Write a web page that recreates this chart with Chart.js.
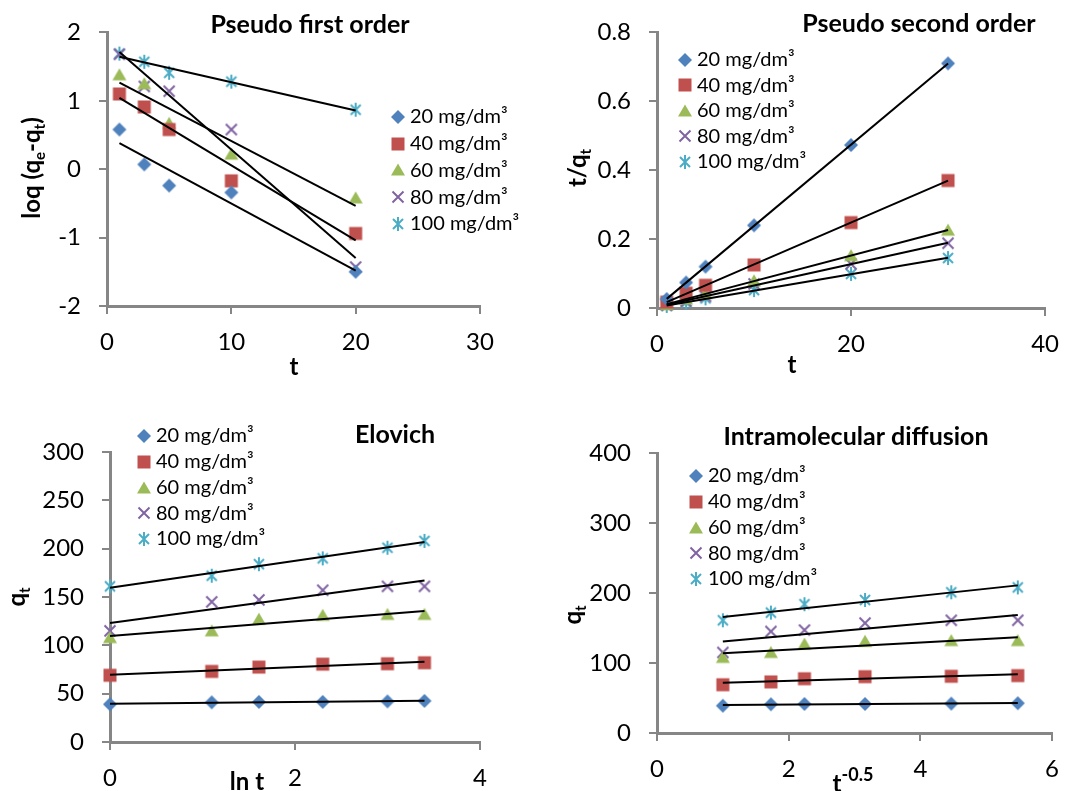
<!DOCTYPE html>
<html>
<head>
<meta charset="utf-8">
<script src="https://cdn.jsdelivr.net/npm/chart.js@4.4.0/dist/chart.umd.min.js"></script>
<style>
  html, body { margin: 0; padding: 0; background: #fff; }
  #wrap { position: relative; width: 1073px; height: 791px; overflow: hidden; }
  #wrap canvas { position: absolute; left: 0; top: 0; }
</style>
</head>
<body>
<div id="wrap">
  <canvas id="pfo" width="1073" height="791"></canvas>
  <canvas id="pso" width="1073" height="791"></canvas>
  <canvas id="elo" width="1073" height="791"></canvas>
  <canvas id="ipd" width="1073" height="791"></canvas>
</div>
<script>
// Initial concentrations and their marker colours
const series = ['20 mg/dm³', '40 mg/dm³', '60 mg/dm³', '80 mg/dm³', '100 mg/dm³'];
const colors = ['#4F81BD', '#C0504D', '#9BBB59', '#8064A2', '#4BACC6'];

// Pseudo first order: log(qe - qt) against t
const pfoT = [1, 3, 5, 10, 20];
const pfoLog = [
  [0.58, 0.07, -0.24, -0.34, -1.50],
  [1.10, 0.91, 0.58, -0.17, -0.94],
  [1.38, 1.25, 0.67, 0.22, -0.42],
  [1.68, 1.21, 1.14, 0.58, -1.43],
  [1.69, 1.57, 1.41, 1.28, 0.87]
];
const pfoXTicks = [0, 10, 20, 30];
const pfoYTicks = [-2, -1, 0, 1, 2];

// Pseudo second order: t/qt against t
const psoT = [1, 3, 5, 10, 20, 30];
const psoRatio = [
  [0.026, 0.074, 0.120, 0.240, 0.473, 0.710],
  [0.017, 0.043, 0.066, 0.125, 0.248, 0.370],
  [0.010, 0.026, 0.042, 0.079, 0.152, 0.226],
  [0.008, 0.020, 0.034, 0.070, 0.128, 0.188],
  [0.006, 0.016, 0.028, 0.052, 0.099, 0.145]
];
const psoXTicks = [0, 20, 40];
const psoYTicks = [0, 0.2, 0.4, 0.6, 0.8];

// Uptake qt, shared by the Elovich and diffusion plots
const qt = [
  [39, 41, 41.5, 41.5, 42, 42.5],
  [69, 73, 77.5, 80.5, 81, 82],
  [108, 115, 127, 131, 132, 132],
  [115, 145, 147, 157, 161, 161],
  [161, 172, 184, 190, 201, 208]
];

// Elovich: qt against ln t
const lnT = [0, 1.1, 1.61, 2.3, 3.0, 3.4];
const eloXTicks = [0, 2, 4];
const eloYTicks = [0, 50, 100, 150, 200, 250, 300];

// Intraparticle diffusion: qt against t^0.5
const rootT = [1, 1.73, 2.24, 3.16, 4.47, 5.48];
const ipdXTicks = [0, 2, 4, 6];
const ipdYTicks = [0, 100, 200, 300, 400];

const FONT = 'Lato';
const AXIS = '#868686';
const W = 1073, H = 791;

// marker glyphs, drawn once and reused by the plots and the legends
function makeMarker(shape, color) {
  const c = document.createElement('canvas');
  c.width = 16; c.height = 16;
  const g = c.getContext('2d');
  g.translate(8, 8);
  g.fillStyle = color;
  g.strokeStyle = color;
  g.lineWidth = 2;
  g.beginPath();
  if (shape === 'diamond') {
    g.moveTo(0, -7); g.lineTo(7, 0); g.lineTo(0, 7); g.lineTo(-7, 0); g.closePath(); g.fill();
  } else if (shape === 'square') {
    g.fillRect(-6.5, -6.5, 13, 13);
  } else if (shape === 'triangle') {
    g.moveTo(0, -6.5); g.lineTo(7, 5.5); g.lineTo(-7, 5.5); g.closePath(); g.fill();
  } else if (shape === 'cross') {
    g.moveTo(-5.5, -5.5); g.lineTo(5.5, 5.5); g.moveTo(5.5, -5.5); g.lineTo(-5.5, 5.5); g.stroke();
  } else {
    g.moveTo(-5, -5); g.lineTo(5, 5); g.moveTo(5, -5); g.lineTo(-5, 5);
    g.moveTo(0, -7); g.lineTo(0, 7); g.stroke();
  }
  return c;
}
const markers = ['diamond', 'square', 'triangle', 'cross', 'star'].map((s, i) => makeMarker(s, colors[i]));

// least squares line through a series, from its first to its last x
function trend(xs, ys) {
  const n = xs.length;
  const mx = xs.reduce((a, b) => a + b, 0) / n;
  const my = ys.reduce((a, b) => a + b, 0) / n;
  let sxy = 0, sxx = 0;
  xs.forEach((x, i) => { sxy += (x - mx) * (ys[i] - my); sxx += (x - mx) * (x - mx); });
  const k = sxy / sxx;
  const x0 = xs[0], x1 = xs[n - 1];
  return [{ x: x0, y: my + k * (x0 - mx) }, { x: x1, y: my + k * (x1 - mx) }];
}

// text with sub/superscripts, centred on x (or on y when rotated)
function drawRich(ctx, parts, x, y, rotated) {
  const size = 24;
  const fontOf = p => 'bold ' + (p.sub ? 15 : p.sup ? 18 : size) + 'px ' + FONT;
  const widths = parts.map(p => { ctx.font = fontOf(p); return ctx.measureText(p.t).width; });
  const total = widths.reduce((a, b) => a + b, 0);
  ctx.save();
  ctx.translate(x, y);
  if (rotated) ctx.rotate(-Math.PI / 2);
  ctx.textAlign = 'left';
  ctx.textBaseline = 'alphabetic';
  let cx = -total / 2;
  parts.forEach((p, i) => {
    ctx.font = fontOf(p);
    const dy = p.sub ? 5 : p.sup ? -11 : 0;
    ctx.fillText(p.t, cx, dy);
    cx += widths[i];
  });
  ctx.restore();
}

// panel title, axis titles and legend
function decor(d) {
  return {
    id: 'decor',
    afterDraw(chart) {
      const ctx = chart.ctx;
      ctx.save();
      ctx.fillStyle = '#000';
      ctx.font = 'bold 25px ' + FONT;
      ctx.textAlign = 'center';
      ctx.textBaseline = 'alphabetic';
      ctx.fillText(d.title, d.titleAt[0], d.titleAt[1]);
      drawRich(ctx, d.xTitle, d.xTitleAt[0], d.xTitleAt[1], false);
      drawRich(ctx, d.yTitle, d.yTitleAt[0], d.yTitleAt[1], true);

      ctx.font = '20px ' + FONT;
      ctx.textAlign = 'left';
      ctx.textBaseline = 'middle';
      series.forEach((name, i) => {
        const y = d.legend[1] + i * d.legend[2];
        const m = markers[i];
        ctx.drawImage(m, Math.round(d.legend[0] - m.width / 2), Math.round(y - m.height / 2));
        ctx.fillText(name, d.legend[0] + 12, y);
      });
      ctx.restore();
    }
  };
}

// the scale boxes run out to the canvas edges so tick labels are never clipped
function axis(min, max, ticks, pad, size, isX) {
  const a = {
    type: 'linear',
    min: min,
    max: max,
    border: { display: true, color: AXIS, width: 3 },
    grid: { display: true, drawOnChartArea: false, drawTicks: true, tickLength: 8, color: AXIS, lineWidth: 2 },
    ticks: { color: '#000', font: { family: FONT, size: 24 }, padding: pad, callback: v => String(v) },
    afterBuildTicks: s => { s.ticks = ticks.map(v => ({ value: v })); }
  };
  if (isX) a.afterFit = s => { s.height = size; };
  else a.afterFit = s => { s.width = size; };
  return a;
}

function buildPanel(id, xs, ys, area, xr, yr, d) {
  const datasets = [];
  ys.forEach((vals, i) => {
    datasets.push({
      label: series[i],
      data: xs.map((x, j) => ({ x: x, y: vals[j] })),
      pointStyle: markers[i],
      pointRadius: 7,
      showLine: false,
      clip: false,
      order: 1
    });
    datasets.push({
      label: series[i] + ' trend',
      data: trend(xs, vals),
      showLine: true,
      borderColor: '#000',
      borderWidth: 2,
      pointRadius: 0,
      clip: false,
      order: 0
    });
  });

  new Chart(document.getElementById(id), {
    type: 'scatter',
    data: { datasets: datasets },
    options: {
      responsive: false,
      animation: false,
      devicePixelRatio: 1,
      events: [],
      layout: { padding: { left: 0, right: W - area.r, top: area.t, bottom: 0 } },
      scales: {
        x: axis(xr[0], xr[1], xr[2], 14, H - area.b, true),
        y: axis(yr[0], yr[1], yr[2], 18, area.l, false)
      },
      plugins: { legend: { display: false }, tooltip: { enabled: false }, title: { display: false } }
    },
    plugins: [decor(d)]
  });
}

buildPanel('pfo', pfoT, pfoLog,
  { l: 107, r: 480, t: 30, b: 306 },
  [0, 30, pfoXTicks], [-2, 2, pfoYTicks],
  {
    title: 'Pseudo first order', titleAt: [310, 33],
    xTitle: [{ t: 't' }], xTitleAt: [294, 375],
    yTitle: [{ t: 'loq (q' }, { t: 'e', sub: true }, { t: '-q' }, { t: 't', sub: true }, { t: ')' }],
    yTitleAt: [40, 168],
    legend: [398, 117, 26.7]
  });

buildPanel('pso', psoT, psoRatio,
  { l: 657, r: 1057, t: 28, b: 308 },
  [0, 40, psoXTicks], [0, 0.8, psoYTicks],
  {
    title: 'Pseudo second order', titleAt: [919, 32],
    xTitle: [{ t: 't' }], xTitleAt: [792, 373],
    yTitle: [{ t: 't/q' }, { t: 't', sub: true }], yTitleAt: [586, 168],
    legend: [685, 60, 25.4]
  });

buildPanel('elo', lnT, qt,
  { l: 110, r: 480, t: 452, b: 742 },
  [0, 4, eloXTicks], [0, 300, eloYTicks],
  {
    title: 'Elovich', titleAt: [395, 443],
    xTitle: [{ t: 'ln t' }], xTitleAt: [247, 790],
    yTitle: [{ t: 'q' }, { t: 't', sub: true }], yTitleAt: [25, 597],
    legend: [144, 436, 25.75]
  });

buildPanel('ipd', rootT, qt,
  { l: 657, r: 1062, t: 453, b: 733 },
  [0, 6, ipdXTicks], [0, 400, ipdYTicks],
  {
    title: 'Intramolecular diffusion', titleAt: [856, 445],
    xTitle: [{ t: 't' }, { t: '-0.5', sup: true }], xTitleAt: [853, 792],
    yTitle: [{ t: 'q' }, { t: 't', sub: true }], yTitleAt: [581, 615],
    legend: [696, 476, 25.75]
  });
</script>
</body>
</html>
